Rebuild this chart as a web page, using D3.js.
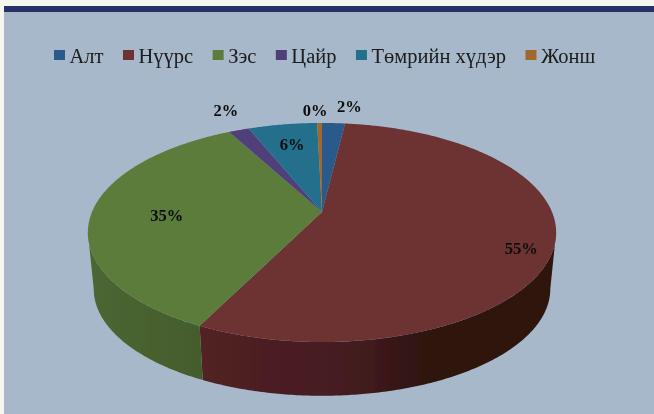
<!DOCTYPE html>
<html>
<head>
<meta charset="utf-8">
<script src="https://cdn.jsdelivr.net/npm/d3@7"></script>
<style>
  html, body { margin: 0; padding: 0; background: #f6f6f0; }
  svg { display: block; }
  text { font-family: "Liberation Serif", serif; }
</style>
</head>
<body>
<div id="chart"></div>
<script>
  var categories = ['Алт', 'Нүүрс', 'Зэс', 'Цайр', 'Төмрийн хүдэр', 'Жонш'];
  var shares = [1.9, 55.4, 34.9, 1.7, 5.7, 0.4];
  var colors = ['#2c5a8c', '#6d3033', '#5b7b3b', '#4f3f7a', '#23708c', '#a0682f'];

  // Hand placed data labels, as pixel nudges from their slice's label point.
  var labelRadius = [1.2, 0.8, 0.7, 1.2, 0.75, 1.2];
  var labelNudge = [[14, 3], [15, 17], [6, 8], [1, 0], [1, 6], [-4, 8]];

  var width = 654;
  var height = 414;

  // Tilted disc: a circle under a perspective projection, so the hub sits above the ellipse centre.
  var cx = 322;
  var cy = 212;
  var rx = 230;
  var ry = 105.7;
  var tilt = 0.187;
  var depth = 57;
  var bottomScale = 0.975;

  function project(angle, radius, bottom) {
    var u = Math.sin(angle) * radius;
    var v = -Math.cos(angle) * radius;
    var w = 1 - tilt * v;
    var s = bottom ? bottomScale : 1;
    return [cx + rx * s * u / w, cy + (bottom ? depth : 0) + ry * s * v / w];
  }

  function sampleAngles(a0, a1) {
    var n = Math.max(2, Math.ceil((a1 - a0) / 0.01));
    return d3.range(n + 1).map(function(i) { return a0 + (a1 - a0) * i / n; });
  }

  var line = d3.line();

  var svg = d3.select('#chart')
    .append('svg')
    .attr('width', width)
    .attr('height', height);

  var defs = svg.append('defs');

  defs.append('filter')
    .attr('id', 'soft')
    .append('feGaussianBlur')
    .attr('stdDeviation', 0.45);

  // Panel and the navy rule on top of it.
  svg.append('rect')
    .attr('x', 4)
    .attr('y', 6)
    .attr('width', width - 4)
    .attr('height', height - 6)
    .attr('fill', '#a6b8ca');

  svg.append('rect')
    .attr('x', 4)
    .attr('y', 6)
    .attr('width', width - 4)
    .attr('height', 6)
    .attr('fill', '#28306a');

  var pie = d3.pie().sort(null).startAngle(0).endAngle(2 * Math.PI);
  var slices = pie(shares);

  var color = d3.scaleOrdinal().domain(categories).range(colors);

  var disc = svg.append('g').attr('filter', 'url(#soft)');

  // Wall of the disc runs between the rim's widest points, which lie just below the hub.
  var wallStart = Math.PI / 2 + Math.asin(tilt);
  var wallEnd = 2 * Math.PI - wallStart;

  slices.forEach(function(d, i) {
    var a0 = Math.max(d.startAngle, wallStart);
    var a1 = Math.min(d.endAngle, wallEnd);
    if (a1 <= a0) {
      return;
    }
    var angles = sampleAngles(a0, a1);
    var top = angles.map(function(a) { return project(a, 1, false); });
    var bottom = angles.map(function(a) { return project(a, 1, true); }).reverse();

    var xs = top.concat(bottom).map(function(p) { return p[0]; });
    var base = d3.color(color(categories[i]));
    var gradientId = 'wall_' + i;
    var gradient = defs.append('linearGradient')
      .attr('id', gradientId)
      .attr('gradientUnits', 'userSpaceOnUse')
      .attr('x1', d3.min(xs))
      .attr('x2', d3.max(xs))
      .attr('y1', 0)
      .attr('y2', 0);
    // The red wall falls into shadow towards the right.
    gradient.append('stop').attr('offset', '0%').attr('stop-color', i === 1 ? '#522124' : base.darker(0.5));
    gradient.append('stop').attr('offset', i === 1 ? '45%' : '100%').attr('stop-color', i === 1 ? '#431c1f' : base.darker(0.8));
    if (i === 1) {
      gradient.append('stop').attr('offset', '62%').attr('stop-color', '#2f1211');
      gradient.append('stop').attr('offset', '100%').attr('stop-color', '#2f1211');
    }

    disc.append('path')
      .attr('d', line(top.concat(bottom)) + 'Z')
      .attr('fill', 'url(#' + gradientId + ')');
  });

  // Top face.
  disc.selectAll('.slice')
    .data(slices)
    .enter().append('path')
    .attr('class', 'slice')
    .attr('d', function(d) {
      var rim = sampleAngles(d.startAngle, d.endAngle).map(function(a) { return project(a, 1, false); });
      return line([[cx, cy]].concat(rim)) + 'Z';
    })
    .attr('fill', function(d, i) { return color(categories[i]); });

  // Legend, laid out left to right from the measured label widths.
  var legend = svg.append('g').attr('filter', 'url(#soft)');
  var legendX = 54;
  categories.forEach(function(name, i) {
    legend.append('rect')
      .attr('x', legendX)
      .attr('y', 50)
      .attr('width', 11)
      .attr('height', 10)
      .attr('fill', color(name));
    var label = legend.append('text')
      .attr('x', legendX + 15.5)
      .attr('y', 63)
      .attr('font-size', 20.5)
      .attr('fill', '#1a1a1a')
      .text(name);
    legendX += 15.5 + label.node().getComputedTextLength() + 19.5;
  });

  // Data labels.
  svg.selectAll('.share')
    .data(slices)
    .enter().append('text')
    .attr('class', 'share')
    .attr('text-anchor', 'middle')
    .attr('font-size', 16.5)
    .attr('font-weight', 'bold')
    .attr('fill', '#0c0c0c')
    .attr('filter', 'url(#soft)')
    .attr('transform', function(d, i) {
      var p = project((d.startAngle + d.endAngle) / 2, labelRadius[i], false);
      return 'translate(' + (p[0] + labelNudge[i][0]) + ',' + (p[1] + labelNudge[i][1]) + ')';
    })
    .text(function(d) { return d3.format('.0f')(d.value) + '%'; });
</script>
</body>
</html>
